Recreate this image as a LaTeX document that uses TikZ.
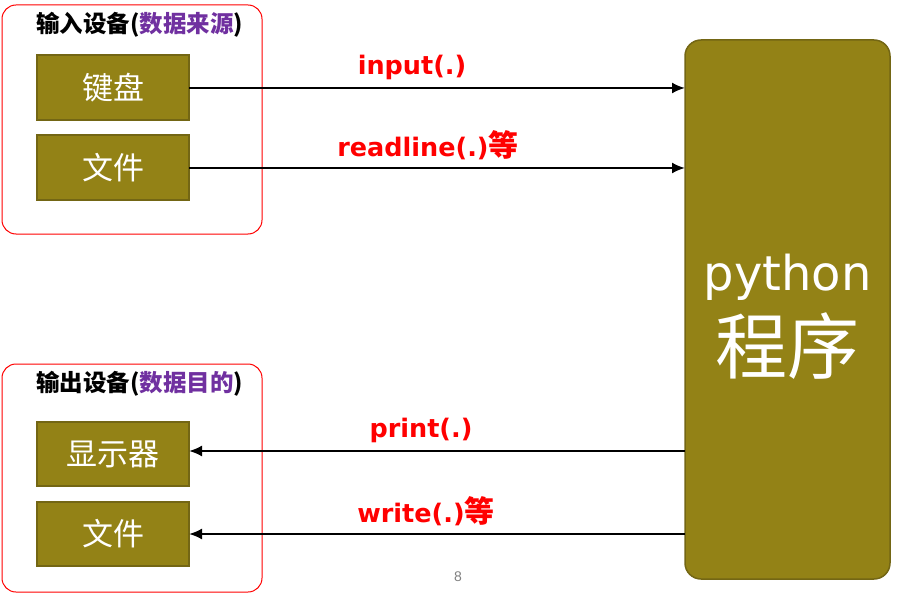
\documentclass[tikz,border=0pt]{standalone}
\usepackage{fontspec}
\setmainfont{Liberation Sans}
\newfontfamily\cjk{Noto Sans CJK SC}
\newfontfamily\lab{DejaVu Sans}
\newfontfamily\pyf{DejaVu Sans}
\usetikzlibrary{arrows.meta}
\definecolor{olive}{RGB}{147,130,22}
\definecolor{olivedark}{RGB}{115,102,20}
\definecolor{purp}{RGB}{112,48,160}
\tikzset{
  grp/.style={draw=red, line width=1pt, rounded corners=14pt},
  dev/.style={draw=olivedark, line width=1.5pt, fill=olive},
  devtxt/.style={text=white, font=\cjk\fontsize{31}{33}\selectfont, inner sep=0pt},
  prog/.style={draw=olivedark, line width=1.5pt, fill=olive, rounded corners=16pt},
  lbl/.style={text=red, font=\lab\bfseries\fontsize{25.5}{27}\selectfont, inner sep=0pt},
  ttl/.style={font=\cjk\bfseries\fontsize{23.5}{25}\selectfont, inner sep=0pt, anchor=west},
  flow/.style={-{Latex[length=13pt,width=11pt]}, line width=2pt}
}
\begin{document}
\begin{tikzpicture}[x=1pt,y=-1pt]
\useasboundingbox (0,0) rectangle (907,596);
% group frames
\draw[grp] (2,5) rectangle (262,234);
\draw[grp] (2,364) rectangle (262,592);
\node[ttl] (t1) at (36,25) {输入设备(\textcolor{purp}{数据来源})};
\node[ttl] (t2) at (36,384) {输出设备(\textcolor{purp}{数据目的})};
% device boxes
\draw[dev] (37,55) rectangle (189,120);
\node[devtxt] (kb) at (113,88) {键盘};
\coordinate (kbE) at (189,88);
\draw[dev] (37,135) rectangle (189,200);
\node[devtxt] (f1) at (113,168) {文件};
\coordinate (f1E) at (189,168);
\draw[dev] (37,422) rectangle (189,486);
\node[devtxt] (sc) at (113,454) {显示器};
\coordinate (scE) at (189,451);
\draw[dev] (37,502) rectangle (189,566);
\node[devtxt] (f2) at (113,534) {文件};
\coordinate (f2E) at (189,534);
% program box
\draw[prog] (685,40) rectangle (890,579);
\node[text=white, inner sep=0pt, anchor=base] (py) at (787.5,290)
  {\pyf\fontsize{48}{50}\selectfont python};
\node[text=white, inner sep=0pt, font=\cjk\fontsize{72}{74}\selectfont] (cx) at (787.5,346) {程序};
\coordinate (p1) at (685,88);
\coordinate (p2) at (685,168);
\coordinate (p3) at (685,451);
\coordinate (p4) at (685,534);
% connectors
\draw[flow] (kbE) -- (p1);
\draw[flow] (f1E) -- (p2);
\draw[flow] (p3) -- (scE);
\draw[flow] (p4) -- (f2E);
% labels
\node[lbl] (l1) at (412,67) {input(.)};
\node[lbl] (l2) at (428,145) {readline(.){\cjk\fontsize{30}{30}\selectfont 等}};
\node[lbl] (l3) at (421,430) {print(.)};
\node[lbl] (l4) at (426,511) {write(.){\cjk\fontsize{30}{30}\selectfont 等}};
\node[text=gray, font=\fontsize{14}{15}\selectfont] (pg) at (458,577) {8};
\end{tikzpicture}
\end{document}
